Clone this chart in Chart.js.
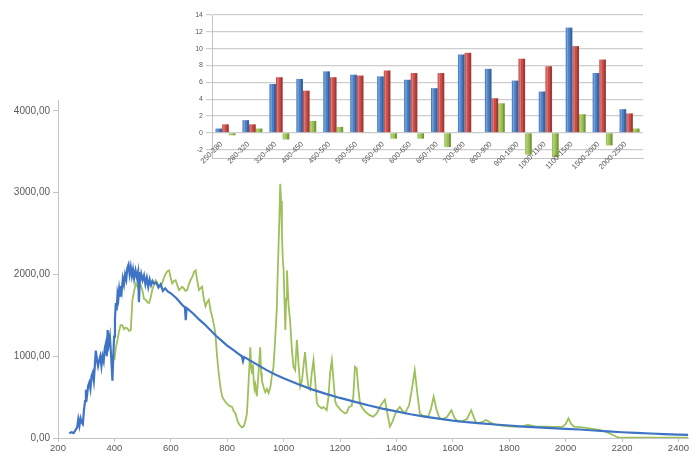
<!DOCTYPE html>
<html>
<head>
<meta charset="utf-8">
<script src="https://cdn.jsdelivr.net/npm/chart.js@4.4.1/dist/chart.umd.min.js"></script>
<style>
    body { margin: 0; background: #fff; }
    #wrap { position: relative; width: 690px; height: 459px; }
    #mainChart { position: absolute; left: 0; top: 0; }
    #insetChart { position: absolute; left: 180px; top: 0; }
</style>
</head>
<body>
<div id="wrap">
    <canvas id="mainChart" width="690" height="459"></canvas>
    <canvas id="insetChart" width="470" height="190"></canvas>
</div>
<script>
// DATOS - espectro principal
const xTicks = [200, 400, 600, 800, 1000, 1200, 1400, 1600, 1800, 2000, 2200, 2400];
const yTicks = [0, 1000, 2000, 3000, 4000];

// serie azul (longitud de onda / valor)
const blueWl = [240, 248, 255, 262, 268, 272, 276, 280, 284, 288, 292, 296, 299, 303, 307, 311, 315, 319, 323, 327,
    331, 334, 338, 342, 346, 350, 354, 358, 362, 366, 370, 373, 376, 380, 384, 387, 390, 393, 396, 399,
    402, 405, 408, 411, 414, 417, 420, 423, 426, 430, 434, 438, 442, 446, 450, 454, 458, 462, 466, 470,
    475, 480, 484, 487, 490, 495, 500, 505, 510, 515, 520, 525, 530, 535, 540, 548, 556, 564, 572, 580,
    590, 600, 610, 620, 630, 640, 646, 650, 653, 656, 660, 680, 700, 720, 740, 760, 780, 800, 820, 840,
    852, 856, 860, 866, 880, 900, 920, 940, 960, 980, 1000, 1050, 1100, 1150, 1200, 1250, 1300, 1350, 1400, 1450,
    1500, 1550, 1600, 1650, 1700, 1750, 1800, 1850, 1900, 1950, 2000, 2050, 2100, 2150, 2200, 2250, 2300, 2350, 2400, 2435];
const blueVal = [57, 70, 60, 95, 130, 230, 150, 240, 190, 170, 340, 450, 590, 520, 640, 680, 600, 760, 800, 700,
    900, 1070, 960, 880, 950, 1000, 880, 1000, 940, 1100, 1160, 1000, 1320, 1150, 1240, 1080, 900, 700, 1000, 1240,
    1450, 1650, 1560, 1760, 1700, 1820, 1740, 1860, 1800, 1950, 1880, 2000, 1940, 2080, 2120, 2000, 2090, 1980, 2060, 1950,
    2050, 1960, 2030, 1660, 1900, 2010, 1930, 1990, 1880, 1960, 1850, 1940, 1870, 1920, 1890, 1900, 1840, 1880, 1800, 1830,
    1790, 1770, 1740, 1710, 1670, 1630, 1610, 1600, 1440, 1590, 1580, 1520, 1450, 1390, 1320, 1250, 1190, 1130, 1080, 1030,
    1000, 940, 990, 980, 950, 910, 870, 830, 795, 760, 730, 660, 595, 540, 490, 445, 400, 360, 325, 290,
    262, 237, 213, 193, 178, 165, 153, 140, 130, 120, 112, 104, 92, 80, 70, 62, 55, 48, 42, 38];

// serie verde (longitud de onda / valor)
const greenWl = [395, 400, 405, 411, 416, 422, 428, 434, 440, 446, 452, 458, 464, 470, 476, 482, 487, 493, 499, 505,
    511, 517, 523, 529, 534, 540, 546, 552, 558, 564, 570, 576, 582, 588, 594, 600, 605, 611, 617, 623,
    629, 635, 640, 646, 652, 658, 664, 670, 676, 682, 688, 694, 700, 705, 711, 717, 723, 729, 735, 741,
    747, 753, 758, 764, 770, 776, 782, 788, 794, 799, 805, 811, 817, 823, 829, 835, 840, 846, 852, 858,
    864, 870, 876, 882, 885, 888, 891, 894, 897, 900, 905, 911, 917, 920, 923, 929, 935, 941, 947, 953,
    958, 964, 970, 976, 979, 982, 985, 988, 991, 994, 997, 1000, 1003, 1006, 1009, 1012, 1015, 1018, 1023, 1029,
    1035, 1041, 1047, 1053, 1059, 1065, 1071, 1076, 1082, 1088, 1094, 1100, 1106, 1112, 1118, 1124, 1129, 1135, 1141, 1147,
    1153, 1159, 1165, 1171, 1177, 1183, 1188, 1194, 1200, 1210, 1218, 1224, 1232, 1241, 1247, 1253, 1259, 1265, 1271, 1277,
    1290, 1305, 1318, 1330, 1345, 1359, 1368, 1377, 1386, 1400, 1412, 1420, 1430, 1445, 1455, 1465, 1474, 1483, 1495, 1512,
    1522, 1532, 1542, 1553, 1565, 1580, 1595, 1605, 1618, 1635, 1650, 1665, 1675, 1683, 1700, 1718, 1735, 1754, 1780, 1813,
    1840, 1866, 1880, 1895, 1930, 1960, 1989, 2000, 2010, 2020, 2030, 2060, 2090, 2119, 2140, 2166, 2180, 2190, 2220, 2300, 2435];
const greenVal = [950, 960, 1100, 1200, 1300, 1380, 1380, 1330, 1350, 1340, 1310, 1320, 1690, 1800, 1890, 1850, 1930, 1870, 1810, 1700,
    1690, 1660, 1650, 1720, 1810, 1870, 1930, 1900, 1860, 1850, 1900, 1960, 2010, 2040, 2050, 1950, 1890, 1920, 1930, 1870,
    1810, 1830, 1850, 1830, 1800, 1810, 1880, 1930, 1970, 2030, 2050, 1920, 1810, 1830, 1850, 1700, 1610, 1660, 1690, 1560,
    1480, 1380, 1280, 1000, 790, 620, 510, 470, 440, 420, 400, 390, 380, 330, 300, 230, 180, 150, 130, 140,
    200, 300, 700, 1110, 850, 790, 900, 700, 600, 650, 510, 800, 1110, 800, 700, 620, 560, 600, 550, 620,
    750, 870, 1200, 1600, 2000, 2340, 2700, 3110, 2900, 2500, 2200, 2050, 1700, 1320, 1700, 2050, 1800, 1600, 1440, 1100,
    870, 830, 1200, 900, 630, 700, 900, 1050, 800, 620, 590, 800, 950, 700, 430, 390, 380, 360, 380, 360,
    340, 500, 800, 950, 700, 450, 400, 380, 350, 320, 300, 310, 380, 390, 500, 870, 850, 600, 420, 380,
    320, 280, 260, 300, 400, 470, 300, 140, 200, 330, 380, 340, 300, 400, 600, 830, 550, 300, 270, 260,
    350, 505, 350, 240, 230, 260, 340, 250, 200, 210, 230, 340, 250, 180, 190, 220, 185, 160, 150, 140,
    140, 160, 150, 140, 140, 135, 138, 170, 240, 170, 140, 130, 115, 100, 80, 40, 15, 5, 5, 5, 5];

// DATOS - grafica insertada (barras)
const binLabels = ['250-280', '280-320', '320-400', '400-450', '450-500', '500-550', '550-600', '600-650',
    '650-700', '700-800', '800-900', '900-1000', '1000-1100', '1100-1500', '1500-2000', '2000-2500'];
const barBlue = [0.5, 1.5, 5.8, 6.4, 7.3, 6.9, 6.7, 6.3, 5.3, 9.3, 7.6, 6.2, 4.9, 12.5, 7.1, 2.8];
const barRed = [1.0, 1.0, 6.6, 5.0, 6.6, 6.8, 7.4, 7.1, 7.1, 9.5, 4.1, 8.8, 7.9, 10.3, 8.7, 2.3];
const barGreen = [-0.3, 0.5, -0.8, 1.4, 0.7, 0.05, -0.7, -0.7, -1.7, 0.05, 3.5, -2.6, -2.9, 2.2, -1.5, 0.5];
const insetTicks = [-2, 0, 2, 4, 6, 8, 10, 12, 14];

const toPoints = (xs, ys) => xs.map((x, i) => ({ x: x, y: ys[i] }));
const axisGray = '#c4c4c4';
const labelGray = '#595959';

// Grafica principal
const ctx = document.getElementById('mainChart').getContext('2d');
const mainChart = new Chart(ctx, {
    type: 'line',
    data: {
        datasets: [{
            label: 'Azul',
            data: toPoints(blueWl, blueVal),
            borderColor: '#3f74c4',
            borderWidth: 2.2,
            pointRadius: 0,
            tension: 0
        }, {
            label: 'Verde',
            data: toPoints(greenWl, greenVal),
            borderColor: '#9dc05a',
            borderWidth: 1.8,
            pointRadius: 0,
            tension: 0
        }]
    },
    options: {
        responsive: false,
        animation: false,
        layout: { padding: { top: 100, right: 0, left: 0, bottom: 0 } },
        plugins: { legend: { display: false }, tooltip: { enabled: false } },
        scales: {
            x: {
                type: 'linear',
                min: 200,
                max: 2435,
                afterBuildTicks: (scale) => { scale.ticks = xTicks.map(v => ({ value: v })); },
                afterFit: (scale) => { scale.height = 21; },
                grid: { drawOnChartArea: false, color: axisGray, tickLength: 4 },
                border: { color: axisGray },
                ticks: {
                    color: labelGray,
                    font: { family: 'Liberation Sans', size: 9.5 },
                    padding: 1,
                    maxRotation: 0,
                    callback: (v) => String(v)
                }
            },
            y: {
                min: 0,
                max: 4134,
                afterBuildTicks: (scale) => { scale.ticks = yTicks.map(v => ({ value: v })); },
                afterFit: (scale) => { scale.width = 58; },
                grid: { drawOnChartArea: false, color: axisGray, tickLength: 5 },
                border: { color: axisGray },
                ticks: {
                    color: labelGray,
                    font: { family: 'Liberation Sans', size: 10 },
                    padding: 3,
                    callback: (v) => v.toFixed(2).replace('.', ',')
                }
            }
        }
    }
});

// efecto 3D simple: cara lateral oscura y tapa clara en cada barra
const barShade = {
    id: 'barShade',
    afterDatasetsDraw(chart) {
        const c = chart.ctx;
        chart.data.datasets.forEach((ds, i) => {
            chart.getDatasetMeta(i).data.forEach((bar) => {
                const p = bar.getProps(['x', 'y', 'base', 'width'], true);
                const left = p.x - p.width / 2;
                const top = Math.min(p.y, p.base);
                const h = Math.abs(p.base - p.y);
                c.save();
                c.fillStyle = 'rgba(0,0,0,0.22)';
                c.fillRect(p.x + p.width / 2 - 2, top, 2, h);
                c.fillStyle = 'rgba(255,255,255,0.25)';
                c.fillRect(left + 1, top, 1.5, h);
                c.restore();
            });
        });
    }
};

// etiquetas de categoria giradas, dibujadas a mano bajo las barras
const binLabelDraw = {
    id: 'binLabelDraw',
    afterDraw(chart) {
        const c = chart.ctx;
        const xs = chart.scales.x;
        c.save();
        c.fillStyle = labelGray;
        c.font = '7.5px "Liberation Sans"';
        c.textAlign = 'right';
        c.textBaseline = 'middle';
        chart.data.labels.forEach((lab, i) => {
            const x = xs.getPixelForTick(i);
            c.save();
            c.translate(x - 4, 143);
            c.rotate(-Math.PI / 4);
            c.fillText(lab, 0, 0);
            c.restore();
        });
        c.restore();
    }
};

// Grafica insertada de barras
const ctx2 = document.getElementById('insetChart').getContext('2d');
const insetChart = new Chart(ctx2, {
    type: 'bar',
    data: {
        labels: binLabels,
        datasets: [{
            data: barBlue,
            backgroundColor: '#4a7ec6'
        }, {
            data: barRed,
            backgroundColor: '#cc4b47'
        }, {
            data: barGreen,
            backgroundColor: '#97c04e'
        }]
    },
    plugins: [barShade, binLabelDraw],
    options: {
        responsive: false,
        animation: false,
        layout: { padding: { top: 15, right: 7, left: 0, bottom: 0 } },
        plugins: { legend: { display: false }, tooltip: { enabled: false } },
        datasets: { bar: { categoryPercentage: 0.74, barPercentage: 1.0 } },
        scales: {
            x: {
                afterFit: (scale) => { scale.height = 32; },
                grid: { display: false, drawTicks: false },
                border: { color: axisGray },
                ticks: { display: false }
            },
            y: {
                min: -3,
                max: 14,
                afterBuildTicks: (scale) => { scale.ticks = insetTicks.map(v => ({ value: v })); },
                afterFit: (scale) => { scale.width = 32; },
                grid: { color: '#cdcdcd', tickLength: 6, lineWidth: 1.2 },
                border: { color: axisGray },
                ticks: {
                    color: labelGray,
                    font: { family: 'Liberation Sans', size: 7 },
                    padding: 3
                }
            }
        }
    }
});
</script>
</body>
</html>
